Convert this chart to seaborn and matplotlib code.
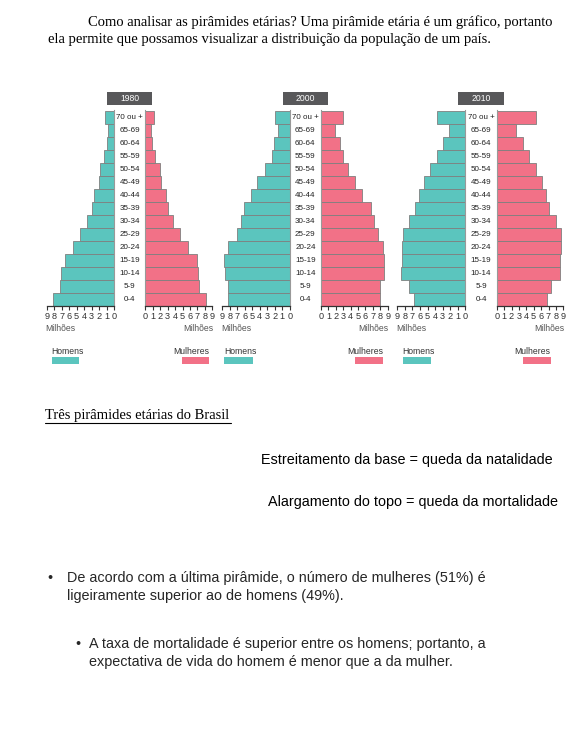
import matplotlib
matplotlib.use("Agg")
import matplotlib.pyplot as plt
from matplotlib.lines import Line2D
from matplotlib.patches import Rectangle
import pandas as pd
import seaborn as sns

# faixas etárias (de cima para baixo)
idades = ["70 ou +", "65-69", "60-64", "55-59", "50-54", "45-49", "40-44",
          "35-39", "30-34", "25-29", "20-24", "15-19", "10-14", "5-9", "0-4"]
anos = ["1980", "2000", "2010"]

# milhões de pessoas
homens_1980 = [1.15, 0.75, 0.95, 1.3, 1.9, 2.05, 2.7, 3.0, 3.6, 4.6, 5.5, 6.6, 7.1, 7.2, 8.1]
mulheres_1980 = [1.2, 0.75, 0.95, 1.35, 1.95, 2.1, 2.8, 3.05, 3.7, 4.6, 5.8, 6.9, 7.1, 7.2, 8.2]
homens_2000 = [1.95, 1.5, 2.05, 2.35, 3.35, 4.3, 5.2, 6.1, 6.55, 7.1, 8.3, 8.75, 8.6, 8.3, 8.3]
mulheres_2000 = [2.95, 1.95, 2.5, 2.95, 3.7, 4.6, 5.5, 6.8, 7.1, 7.7, 8.3, 8.55, 8.55, 8.0, 8.0]
homens_2010 = [3.7, 2.1, 2.9, 3.7, 4.7, 5.5, 6.1, 6.6, 7.5, 8.25, 8.4, 8.4, 8.5, 7.45, 6.8]
mulheres_2010 = [5.35, 2.6, 3.5, 4.4, 5.3, 6.15, 6.7, 7.1, 8.0, 8.65, 8.65, 8.5, 8.5, 7.4, 6.85]

ticks = list(range(10))

dados = {
    "1980": (homens_1980, mulheres_1980),
    "2000": (homens_2000, mulheres_2000),
    "2010": (homens_2010, mulheres_2010),
}

W, H = 586, 732
cor_h = "#5bc5be"
cor_m = "#f27187"
borda = "#7f7f7f"
serif = ["Liberation Serif", "DejaVu Serif"]
sans = ["Liberation Sans", "DejaVu Sans"]
fs_pq = 6.2   # texto pequeno das pirâmides

sns.set_theme(style="white")
plt.rcParams["font.family"] = sans

fig = plt.figure(figsize=(W / 100, H / 100), dpi=100)
fig.patch.set_facecolor("white")


def rect(x0, y0, x1, y1):
    return [x0 / W, 1 - y1 / H, (x1 - x0) / W, (y1 - y0) / H]


def fx(x):
    return x / W


def fy(y):
    return 1 - y / H


# posições (pixels): eixo homens, eixo mulheres, caixa do ano, legenda
layout = {
    "1980": dict(h=(46.7, 114), m=(145.3, 212.3), caixa=(106.7, 152.3),
                 lh=(51.7, 79.3), lm=(181.7, 209.3)),
    "2000": dict(h=(222.3, 289.7), m=(321, 387.7), caixa=(282.7, 327.7),
                 lh=(224.3, 253.3), lm=(354.7, 383.3)),
    "2010": dict(h=(397.3, 465.3), m=(496.7, 563.3), caixa=(458, 504),
                 lh=(402.7, 430.7), lm=(522.7, 550.7)),
}

y_top, y_bot = 110.5, 306

for ano in anos:
    hom, mul = dados[ano]
    L = layout[ano]
    df = pd.DataFrame({"idade": idades, "homens": hom, "mulheres": mul})

    ax_h = fig.add_axes(rect(L["h"][0], y_top, L["h"][1], y_bot))
    ax_m = fig.add_axes(rect(L["m"][0], y_top, L["m"][1], y_bot))

    sns.barplot(data=df, x="homens", y="idade", orient="h", color=cor_h,
                width=1, edgecolor=borda, linewidth=0.6, saturation=1, ax=ax_h)
    sns.barplot(data=df, x="mulheres", y="idade", orient="h", color=cor_m,
                width=1, edgecolor=borda, linewidth=0.6, saturation=1, ax=ax_m)

    ax_h.set_xlim(9, 0)
    ax_m.set_xlim(0, 9)
    for ax, lado in ((ax_h, "right"), (ax_m, "left")):
        ax.set_ylim(14.5, -0.5)
        ax.set_facecolor("none")
        ax.set_xlabel("")
        ax.set_ylabel("")
        ax.set_yticks([])
        ax.set_xticks(ticks)
        ax.set_xticklabels([str(t) for t in ticks], fontsize=6.6, color="#333333")
        ax.tick_params(axis="x", direction="out", length=3, width=0.8, pad=1.5,
                       colors="#333333", bottom=True)
        for s in ax.spines.values():
            s.set_visible(False)
        ax.spines["bottom"].set_visible(True)
        ax.spines["bottom"].set_color("#333333")
        ax.spines["bottom"].set_linewidth(0.9)
        ax.spines[lado].set_visible(True)
        ax.spines[lado].set_color("#999999")
        ax.spines[lado].set_linewidth(0.8)

    # faixas etárias no centro
    xc = (L["h"][1] + L["m"][0]) / 2
    for i, idade in enumerate(idades):
        yc = y_top + (i + 0.5) * (y_bot - y_top) / len(idades)
        fig.text(fx(xc), fy(yc), idade, ha="center", va="center",
                 fontsize=5.8, color="#222222")

    # Milhões
    fig.text(fx(L["h"][0] - 1), fy(328), "Milhões", ha="left", va="center",
             fontsize=fs_pq, color="#555555")
    fig.text(fx(L["m"][1] + 1), fy(328), "Milhões", ha="right", va="center",
             fontsize=fs_pq, color="#555555")

    # caixa do ano
    ax_c = fig.add_axes(rect(L["caixa"][0], 92, L["caixa"][1], 104.7))
    ax_c.set_facecolor("#58585a")
    ax_c.set_xticks([])
    ax_c.set_yticks([])
    for s in ax_c.spines.values():
        s.set_visible(False)
    ax_c.text(0.5, 0.5, ano, ha="center", va="center", color="white",
              fontsize=fs_pq, transform=ax_c.transAxes)

    # legenda
    fig.text(fx(L["lh"][0]), fy(351), "Homens", ha="left", va="center",
             fontsize=fs_pq, color="#333333")
    fig.text(fx(L["lm"][1]), fy(351), "Mulheres", ha="right", va="center",
             fontsize=fs_pq, color="#333333")
    for (a, b), cor in ((L["lh"], cor_h), (L["lm"], cor_m)):
        fig.patches.append(Rectangle((fx(a), fy(364)), fx(b - a), 7 / H,
                                     transform=fig.transFigure, facecolor=cor,
                                     edgecolor="none"))

# texto do documento
fig.text(fx(88), fy(22), "Como analisar as pirâmides etárias? Uma pirâmide etária é um gráfico, portanto",
         ha="left", va="center", family=serif, fontsize=10.55, color="black")
fig.text(fx(48), fy(40), "ela permite que possamos visualizar a distribuição da população de um país.",
         ha="left", va="center", family=serif, fontsize=10.55, color="black")

fig.text(fx(45), fy(415), "Três pirâmides etárias do Brasil", ha="left", va="center",
         family=serif, fontsize=10.55, color="black")
fig.lines.append(Line2D([fx(45), fx(231)], [fy(423), fy(423)], transform=fig.transFigure,
                        color="black", linewidth=0.8))

fs_txt = 10.4
fig.text(fx(553), fy(460), "Estreitamento da base = queda da natalidade", ha="right",
         va="center", family=sans, fontsize=fs_txt, color="black")
fig.text(fx(558), fy(502), "Alargamento do topo = queda da mortalidade", ha="right",
         va="center", family=sans, fontsize=fs_txt, color="black")

fig.text(fx(47), fy(578), "•", ha="left", va="center", family=sans, fontsize=fs_txt)
fig.text(fx(67), fy(578), "De acordo com a última pirâmide, o número de mulheres (51%) é",
         ha="left", va="center", family=sans, fontsize=fs_txt)
fig.text(fx(67), fy(596), "ligeiramente superior ao de homens (49%).",
         ha="left", va="center", family=sans, fontsize=fs_txt)

fig.text(fx(75), fy(644), "•", ha="left", va="center", family=sans, fontsize=fs_txt)
fig.text(fx(89), fy(644), "A taxa de mortalidade é superior entre os homens; portanto, a",
         ha="left", va="center", family=sans, fontsize=fs_txt)
fig.text(fx(89), fy(662), "expectativa de vida do homem é menor que a da mulher.",
         ha="left", va="center", family=sans, fontsize=fs_txt)

fig.savefig("out.png", dpi=100, facecolor="white")
